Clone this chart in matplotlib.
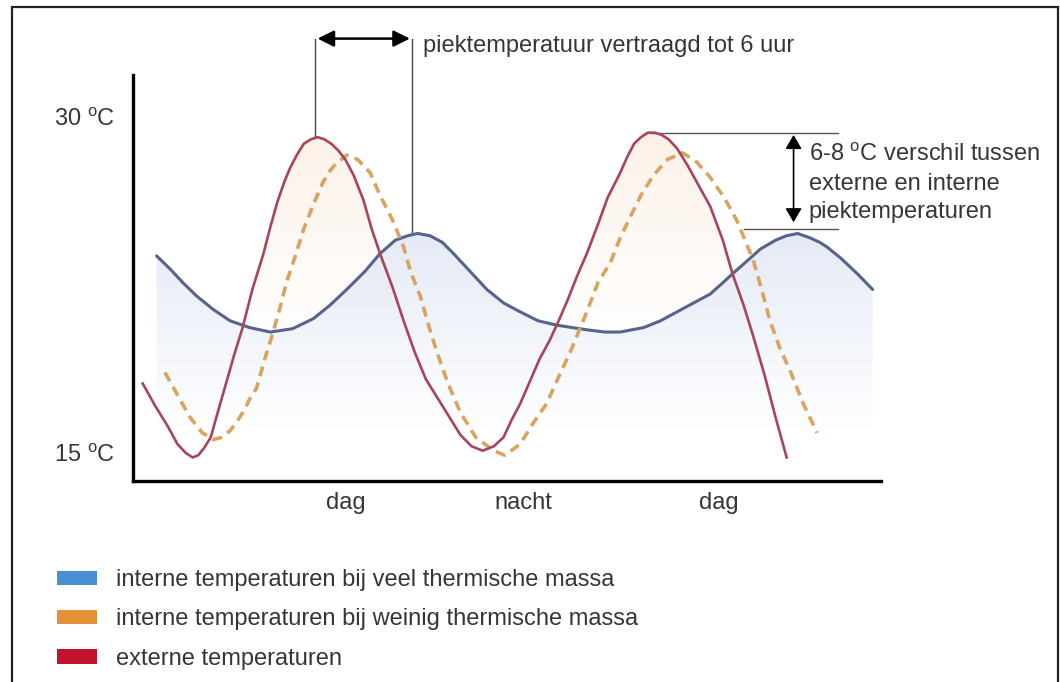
import numpy as np
import matplotlib.pyplot as plt
from matplotlib.patches import Patch, Polygon, Rectangle

plt.rcParams["font.family"] = ["Liberation Sans", "DejaVu Sans"]
plt.rcParams["mathtext.fontset"] = "custom"
plt.rcParams["mathtext.rm"] = "Liberation Sans"

# -------------------------
# Data (hours, degrees C)
# -------------------------

# externe temperaturen
ext_t = [0.7, 1.6, 2.5, 3.2, 3.8, 4.3, 4.7, 5.1, 5.6, 6.1, 6.7, 7.3, 7.9, 8.6, 9.4,
         9.9, 10.4, 10.9, 11.3, 11.8, 12.3, 12.8, 13.3, 13.8, 14.3, 14.8, 15.3, 15.9,
         16.6, 17.2, 17.8, 18.7, 19.5, 20.3, 21.1, 21.9, 22.8, 23.6, 24.4, 25.2, 26.0,
         26.7, 27.3, 27.9, 28.6, 29.3, 30.0, 30.6, 31.3, 32.0, 32.7, 33.5, 34.2, 35.1,
         35.6, 36.1, 36.6, 37.1, 37.6, 38.1, 38.6, 39.2, 40.0, 40.8, 41.6, 42.5, 43.2,
         44.0, 44.7, 45.5, 46.3, 47.1]
ext_temp = [18.1, 17.1, 16.2, 15.4, 15.0, 14.8, 14.9, 15.2, 15.7, 16.8, 18.1, 19.4, 20.6,
            22.3, 23.9, 25.1, 26.2, 27.1, 27.7, 28.3, 28.8, 29.0, 29.1, 29.0, 28.8, 28.5,
            28.1, 27.4, 26.3, 25.0, 23.9, 22.4, 20.9, 19.5, 18.3, 17.5, 16.6, 15.8, 15.3,
            15.1, 15.3, 15.7, 16.5, 17.2, 18.2, 19.2, 20.0, 20.8, 21.8, 22.9, 23.9, 25.2,
            26.4, 27.5, 28.2, 28.8, 29.1, 29.3, 29.3, 29.2, 29.0, 28.6, 27.8, 26.9, 26.0,
            24.5, 23.0, 21.6, 20.2, 18.5, 16.6, 14.8]

# interne temperaturen bij veel thermische massa
high_t = [1.7, 2.7, 3.6, 4.6, 5.8, 7.0, 8.4, 9.9, 11.5, 13.0, 14.2, 15.4, 16.7, 17.8,
          18.9, 19.8, 20.5, 21.4, 22.3, 23.1, 24.3, 25.5, 26.7, 27.9, 29.2, 30.6, 32.7,
          34.0, 35.1, 36.8, 38.0, 39.2, 40.4, 41.6, 42.5, 43.2, 44.3, 45.2, 46.3, 47.1,
          47.9, 48.8, 49.5, 50.0, 51.0, 52.2, 53.3]
high_temp = [23.8, 23.2, 22.6, 22.0, 21.4, 20.9, 20.6, 20.4, 20.55, 21.0, 21.6, 22.3, 23.1,
             23.9, 24.5, 24.7, 24.8, 24.7, 24.4, 23.9, 23.1, 22.3, 21.7, 21.3, 20.9, 20.7,
             20.5, 20.4, 20.4, 20.6, 20.9, 21.3, 21.7, 22.1, 22.6, 23.0, 23.6, 24.1, 24.5,
             24.7, 24.8, 24.6, 24.4, 24.2, 23.7, 23.0, 22.3]

# interne temperaturen bij weinig thermische massa
low_t = [2.3, 3.2, 4.1, 5.0, 5.8, 6.4, 7.0, 7.5, 8.0, 8.4, 8.9, 9.5, 10.1, 10.6, 11.1,
         11.7, 12.3, 13.0, 13.7, 14.2, 14.6, 15.4, 16.2, 17.1, 17.8, 18.7, 19.5, 20.0,
         20.7, 21.3, 21.9, 22.7, 23.6, 24.7, 26.0, 26.8, 27.9, 28.8, 29.8, 30.6, 31.5,
         32.1, 32.7, 33.5, 34.4, 35.1, 35.8, 36.6, 37.5, 38.5, 39.6, 40.6, 41.6, 42.6,
         43.5, 44.1, 44.7, 45.3, 45.9, 46.6, 47.4, 48.3, 49.3]
low_temp = [18.6, 17.6, 16.6, 15.9, 15.6, 15.7, 16.0, 16.4, 16.9, 17.4, 17.9, 19.2, 20.4,
            21.5, 22.7, 23.8, 25.0, 26.1, 27.1, 27.6, 27.9, 28.3, 28.1, 27.5, 26.5, 25.4,
            24.2, 23.1, 22.0, 20.7, 19.5, 18.1, 16.8, 15.7, 15.1, 14.9, 15.4, 16.3, 17.2,
            18.3, 19.5, 20.4, 21.3, 22.6, 23.5, 24.6, 25.5, 26.5, 27.4, 28.1, 28.4, 28.0,
            27.3, 26.4, 25.4, 24.5, 23.6, 22.3, 20.9, 19.7, 18.6, 17.2, 15.9]

y_ticks = [15, 30]
y_labels = [r"15 $^{\rm o}$C", r"30 $^{\rm o}$C"]
x_ticks = [15.3, 28.1, 42.2]
x_labels = ["dag", "nacht", "dag"]

legend_labels = [
    "interne temperaturen bij veel thermische massa",
    "interne temperaturen bij weinig thermische massa",
    "externe temperaturen",
]
legend_colors = ["#4a8fd6", "#e4923a", "#c0142c"]

T_MIN, T_MAX = 13.75, 31.875
H_MAX = 53.9
TEXT = "#363636"
FS = 17


def gradient_fill(ax, x, y, rgb, top, bottom, alpha_top):
    """Vertical fading colour under a curve, clipped to the area below it."""
    n = 200
    alpha = np.clip((np.linspace(T_MAX, T_MIN, n) - bottom) / (top - bottom), 0, 1) * alpha_top
    img = np.zeros((n, 2, 4))
    img[..., :3] = rgb
    img[..., 3] = alpha[:, None]
    im = ax.imshow(img, extent=[0, H_MAX, T_MIN, T_MAX], aspect="auto",
                   origin="upper", zorder=1, interpolation="bilinear")
    verts = list(zip(x, y)) + [(x[-1], T_MIN), (x[0], T_MIN)]
    clip = Polygon(verts, closed=True, transform=ax.transData, facecolor="none", edgecolor="none")
    ax.add_patch(clip)
    im.set_clip_path(clip)


fig = plt.figure(figsize=(10.6, 6.82), dpi=100)
ax = fig.add_axes([133 / 1060, 1 - 481 / 682, 748 / 1060, 406 / 682])

gradient_fill(ax, ext_t, ext_temp, (0.98, 0.88, 0.80), 29.5, 20.0, 0.45)
gradient_fill(ax, high_t, high_temp, (0.85, 0.88, 0.95), 25.0, 16.0, 0.7)

ax.plot(high_t, high_temp, color="#56648c", lw=2.2, zorder=3,
        solid_capstyle="round", solid_joinstyle="round")
ax.plot(low_t, low_temp, color="#d7a560", lw=2.6, ls=(0, (2.8, 1.8)), zorder=3)
ax.plot(ext_t, ext_temp, color="#a8445c", lw=1.9, zorder=4, solid_joinstyle="round")

ax.set_xlim(0, H_MAX)
ax.set_ylim(T_MIN, T_MAX)
for side in ["top", "right"]:
    ax.spines[side].set_visible(False)
for side in ["left", "bottom"]:
    ax.spines[side].set_linewidth(2.4)
    ax.spines[side].set_color("black")
ax.set_yticks(y_ticks, y_labels)
ax.set_xticks(x_ticks, x_labels)
ax.tick_params(axis="y", length=0, pad=13, labelsize=FS, labelcolor=TEXT)
ax.tick_params(axis="x", length=0, pad=8, labelsize=FS, labelcolor=TEXT)

# peak delay annotation
ax.plot([13.1, 13.1], [29.1, 33.5], color="#444444", lw=1.0, clip_on=False)
ax.plot([20.1, 20.1], [24.8, 33.5], color="#444444", lw=1.0, clip_on=False)
ax.annotate("", xy=(13.3, 33.5), xytext=(19.95, 33.5), annotation_clip=False,
            arrowprops=dict(arrowstyle="<|-|>,head_length=0.7,head_width=0.35",
                            color="black", lw=1.8, mutation_scale=14,
                            shrinkA=0, shrinkB=0))
ax.text(20.9, 33.15, "piektemperatuur vertraagd tot 6 uur", fontsize=FS, color=TEXT,
        va="center", ha="left", clip_on=False)

# peak difference annotation
ax.plot([37.3, 50.8], [29.3, 29.3], color="#555555", lw=1.0, clip_on=False)
ax.plot([44.0, 50.8], [25.0, 25.0], color="#555555", lw=1.0, clip_on=False)
ax.annotate("", xy=(47.6, 29.2), xytext=(47.6, 25.3), annotation_clip=False,
            arrowprops=dict(arrowstyle="<|-|>,head_length=0.6,head_width=0.35",
                            color="black", lw=1.2, mutation_scale=14,
                            shrinkA=0, shrinkB=0))
ax.text(48.7, 27.05, "6-8 $^{\\rm o}$C verschil tussen\nexterne en interne\npiektemperaturen",
        fontsize=FS, color=TEXT, va="center", ha="left", linespacing=1.36, clip_on=False)

# legend
handles = [Patch(facecolor=c, edgecolor="none") for c in legend_colors]
fig.legend(handles, legend_labels, loc="upper left", bbox_to_anchor=(57 / 1060, 1 - 569 / 682),
           frameon=False, fontsize=FS, handlelength=1.7, handleheight=0.55,
           handletextpad=0.8, labelspacing=0.74, borderpad=0, borderaxespad=0,
           labelcolor=TEXT)

# outer frame
fig.patches.append(Rectangle((12 / 1060, -0.02), 1046 / 1060, 1.02 - 7 / 682,
                             transform=fig.transFigure, fill=False,
                             edgecolor="#222222", lw=1.6))

fig.savefig("out.png", dpi=100)
